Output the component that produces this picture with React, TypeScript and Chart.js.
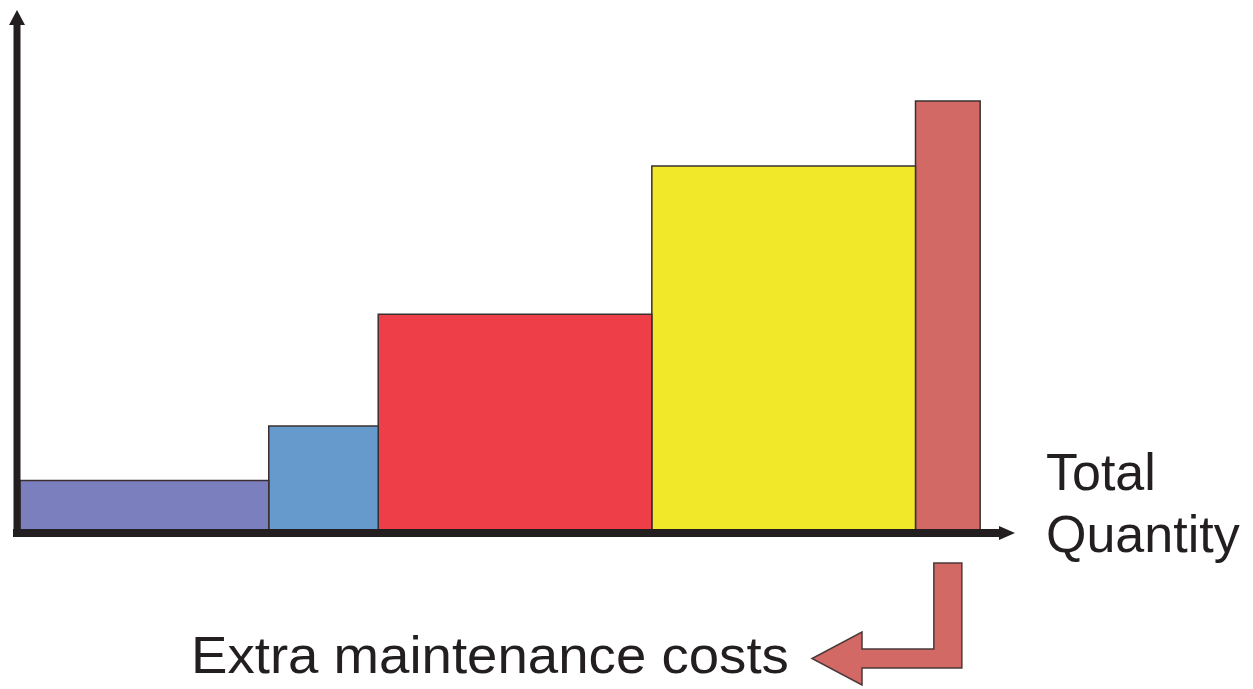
import React, { useEffect, useRef } from "react";
import { Chart, registerables } from "chart.js";

Chart.register(...registerables);

// Data
const categories = ["Segment A", "Segment B", "Segment C", "Segment D", "Extra maintenance"];
const quantities = [25, 11, 27.5, 26.5, 6.5]; // bar widths (quantity)
const costs = [9.5, 20, 41.5, 70, 82.5]; // bar heights
const colors = ["#7b7fbe", "#6699cc", "#ee3e48", "#f2e82a", "#d26964"];
const xLabel = ["Total", "Quantity"];
const noteLabel = "Extra maintenance costs";

const AXIS_COLOR = "#231f20";

function buildDatasets() {
  let start = 0;
  return categories.map((name, i) => {
    const x0 = start;
    const x1 = start + quantities[i];
    start = x1;
    const h = costs[i];
    return {
      label: name,
      data: [
        { x: x0, y: 0 },
        { x: x0, y: h },
        { x: x1, y: h },
        { x: x1, y: 0 },
      ],
      showLine: true,
      fill: "origin",
      backgroundColor: colors[i],
      borderColor: "#3a3030",
      borderWidth: 1.5,
      pointRadius: 0,
      tension: 0,
    };
  });
}

const axisPlugin = {
  id: "axisArrows",
  afterDatasetsDraw(chart: any) {
    const { ctx, chartArea } = chart;
    const ax = chartArea.left - 3;
    const ay = chartArea.bottom + 3;
    ctx.save();
    ctx.strokeStyle = AXIS_COLOR;
    ctx.fillStyle = AXIS_COLOR;
    ctx.lineCap = "butt";
    // y axis
    ctx.lineWidth = 7;
    ctx.beginPath();
    ctx.moveTo(ax, ay + 4);
    ctx.lineTo(ax, chartArea.top + 14);
    ctx.stroke();
    ctx.beginPath();
    ctx.moveTo(ax, chartArea.top);
    ctx.lineTo(ax - 8, chartArea.top + 15);
    ctx.lineTo(ax + 8, chartArea.top + 15);
    ctx.closePath();
    ctx.fill();
    // x axis
    ctx.lineWidth = 8;
    ctx.beginPath();
    ctx.moveTo(ax - 4, ay);
    ctx.lineTo(chartArea.right - 14, ay);
    ctx.stroke();
    ctx.beginPath();
    ctx.moveTo(chartArea.right, ay);
    ctx.lineTo(chartArea.right - 16, ay - 7);
    ctx.lineTo(chartArea.right - 16, ay + 7);
    ctx.closePath();
    ctx.fill();

    // bent arrow under the last bar pointing to the note
    const xs = chart.scales.x;
    const total = quantities.reduce((a, b) => a + b, 0);
    const last = quantities[quantities.length - 1];
    const cx = xs.getPixelForValue(total - last / 2);
    const half = 14;
    const top = ay + 30;
    const hTop = 649;
    const hBot = 668;
    const headBase = 862;
    const tipX = 812;
    const midY = (hTop + hBot) / 2;
    ctx.beginPath();
    ctx.moveTo(cx - half, top);
    ctx.lineTo(cx + half, top);
    ctx.lineTo(cx + half, hBot);
    ctx.lineTo(headBase, hBot);
    ctx.lineTo(headBase, 685);
    ctx.lineTo(tipX, midY);
    ctx.lineTo(headBase, 632);
    ctx.lineTo(headBase, hTop);
    ctx.lineTo(cx - half, hTop);
    ctx.closePath();
    ctx.fillStyle = colors[colors.length - 1];
    ctx.fill();
    ctx.lineWidth = 1.5;
    ctx.strokeStyle = "#4a3a3a";
    ctx.stroke();
    ctx.restore();
  },
};

export default function App() {
  const ref = useRef<HTMLCanvasElement>(null);
  useEffect(() => {
    if (!ref.current) return;
    const chart = new Chart(ref.current, {
      type: "scatter",
      data: { datasets: buildDatasets() as any },
      options: {
        responsive: false,
        animation: false,
        events: [],
        layout: { padding: { left: 20, right: 238, top: 10, bottom: 159 } },
        plugins: { legend: { display: false }, tooltip: { enabled: false } },
        scales: {
          x: { type: "linear", min: 0, max: 100, display: false },
          y: { type: "linear", min: 0, max: 100, display: false },
        },
      } as any,
      plugins: [axisPlugin],
    });
    return () => chart.destroy();
  }, []);

  const font = "'Liberation Sans', Arial, sans-serif";
  return (
    <div
      style={{
        position: "fixed",
        left: 0,
        top: 0,
        width: 1253,
        height: 689,
        background: "#ffffff",
        overflow: "hidden",
      }}
    >
      <canvas ref={ref} width={1253} height={689} style={{ display: "block" }} />
      <div
        style={{
          position: "absolute",
          left: 1046,
          top: 441,
          fontFamily: font,
          fontSize: 52,
          lineHeight: "62px",
          color: "#231f20",
          whiteSpace: "nowrap",
        }}
      >
        {xLabel[0]}
        <br />
        {xLabel[1]}
      </div>
      <div
        style={{
          position: "absolute",
          left: 191,
          top: 629,
          fontFamily: font,
          fontSize: 52,
          lineHeight: "52px",
          color: "#231f20",
          whiteSpace: "nowrap",
          transform: "scaleX(1.05)",
          transformOrigin: "left center",
        }}
      >
        {noteLabel}
      </div>
    </div>
  );
}
